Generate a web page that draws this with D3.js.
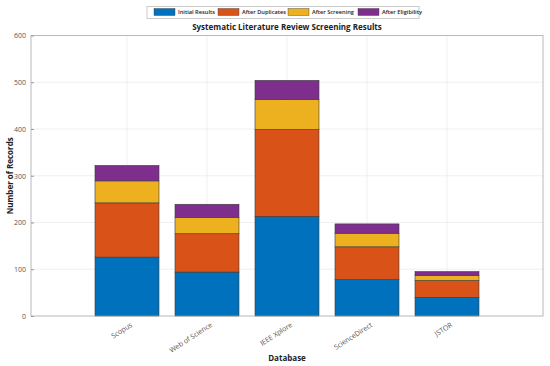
<!DOCTYPE html>
<html>
<head>
<meta charset="utf-8">
<script src="https://cdn.jsdelivr.net/npm/d3@7"></script>
<style>
  body { margin:0; background:#fff; }
  text { font-family: "Open Sans", "DejaVu Sans", sans-serif; }
</style>
</head>
<body>
<svg id="chart" width="550" height="366"></svg>
<script>
const databases = ["Scopus", "Web of Science", "IEEE Xplore", "ScienceDirect", "JSTOR"];
const seriesNames = ["Initial Results", "After Duplicates", "After Screening", "After Eligibility"];
const initialResults = [126, 94, 213, 78, 40];
const afterDuplicates = [116, 82, 186, 70, 36];
const afterScreening = [47, 35, 64, 29, 11];
const afterEligibility = [33, 28, 41, 20, 8];
const yTicks = [0, 100, 200, 300, 400, 500, 600];
const colors = ["#0072BD", "#D95319", "#EDB120", "#7E2F8E"];

const svg = d3.select("#chart");
const m = { left:31, right:543, top:35.5, bottom:316 };

const rows = databases.map((d, i) => ({
  db: d, idx: i + 1,
  "Initial Results": initialResults[i],
  "After Duplicates": afterDuplicates[i],
  "After Screening": afterScreening[i],
  "After Eligibility": afterEligibility[i]
}));
const stacked = d3.stack().keys(seriesNames)(rows);

const x = d3.scaleLinear().domain([-0.2, 6.2]).range([m.left, m.right]);
const y = d3.scaleLinear().domain([0, 600]).range([m.bottom, m.top]);
const barW = x(0.8) - x(0);

// grid
const grid = svg.append("g").attr("stroke", "#e6e6e6").attr("stroke-width", 0.6);
grid.selectAll("line.h").data(yTicks.slice(1, -1)).enter().append("line")
  .attr("x1", m.left).attr("x2", m.right).attr("y1", d => y(d)).attr("y2", d => y(d));
grid.selectAll("line.v").data(rows).enter().append("line")
  .attr("x1", d => x(d.idx)).attr("x2", d => x(d.idx)).attr("y1", m.top).attr("y2", m.bottom);

// bars
stacked.forEach((s, si) => {
  svg.append("g").selectAll("rect").data(s).enter().append("rect")
    .attr("x", d => x(d.data.idx) - barW / 2)
    .attr("width", barW)
    .attr("y", d => y(d[1]))
    .attr("height", d => y(d[0]) - y(d[1]))
    .attr("fill", colors[si])
    .attr("stroke", "#3a3a3a").attr("stroke-width", 0.6);
});

// axes
const yAxis = d3.axisLeft(y).tickValues(yTicks).tickSize(-3).tickPadding(5);
const yg = svg.append("g").attr("transform", `translate(${m.left},0)`).call(yAxis);
const xAxis = d3.axisBottom(x).tickValues(rows.map(d => d.idx)).tickFormat(i => databases[i - 1]).tickSize(-3);
const xg = svg.append("g").attr("transform", `translate(0,${m.bottom})`).call(xAxis);
[yg, xg].forEach(g => {
  g.select(".domain").remove();
  g.selectAll(".tick line").attr("stroke", "#555").attr("stroke-width", 0.6);
  g.selectAll(".tick text").attr("fill", "#555").style("font-size", "7px");
});
xg.selectAll(".tick text").attr("text-anchor", "end").attr("x", 0).attr("y", 0).attr("dy", "0.35em")
  .attr("transform", "translate(4,8) rotate(-33)");

// box
svg.append("rect").attr("x", m.left).attr("y", m.top)
  .attr("width", m.right - m.left).attr("height", m.bottom - m.top)
  .attr("fill", "none").attr("stroke", "#a8a8a8").attr("stroke-width", 0.8);

// titles
svg.append("text").attr("x", (m.left + m.right) / 2).attr("y", 30).attr("text-anchor", "middle")
  .style("font-size", "8px").style("font-weight", "bold").attr("fill", "#222")
  .text("Systematic Literature Review Screening Results");
svg.append("text").attr("x", (m.left + m.right) / 2).attr("y", 361).attr("text-anchor", "middle")
  .style("font-size", "8px").style("font-weight", "bold").attr("fill", "#222").text("Database");
svg.append("text").attr("transform", `translate(13,${(m.top + m.bottom) / 2}) rotate(-90)`)
  .attr("text-anchor", "middle").style("font-size", "8px").style("font-weight", "bold").attr("fill", "#222")
  .text("Number of Records");

// legend
const lg = svg.append("g");
lg.append("rect").attr("x", 147).attr("y", 6.5).attr("width", 272).attr("height", 12)
  .attr("fill", "#fff").attr("stroke", "#b5b5b5").attr("stroke-width", 0.7);
const legX = [154, 218, 288, 358];
const legTextW = [37, 44, 42, 40];
seriesNames.forEach((n, i) => {
  lg.append("rect").attr("x", legX[i]).attr("y", 8.5).attr("width", 21).attr("height", 7)
    .attr("fill", colors[i]).attr("stroke", "#3a3a3a").attr("stroke-width", 0.4);
  lg.append("text").attr("x", legX[i] + 24).attr("y", 14.4).style("font-size", "6px")
    .style("font-weight", "600").attr("fill", "#222")
    .attr("textLength", legTextW[i]).attr("lengthAdjust", "spacingAndGlyphs").text(n);
});
</script>
</body>
</html>
